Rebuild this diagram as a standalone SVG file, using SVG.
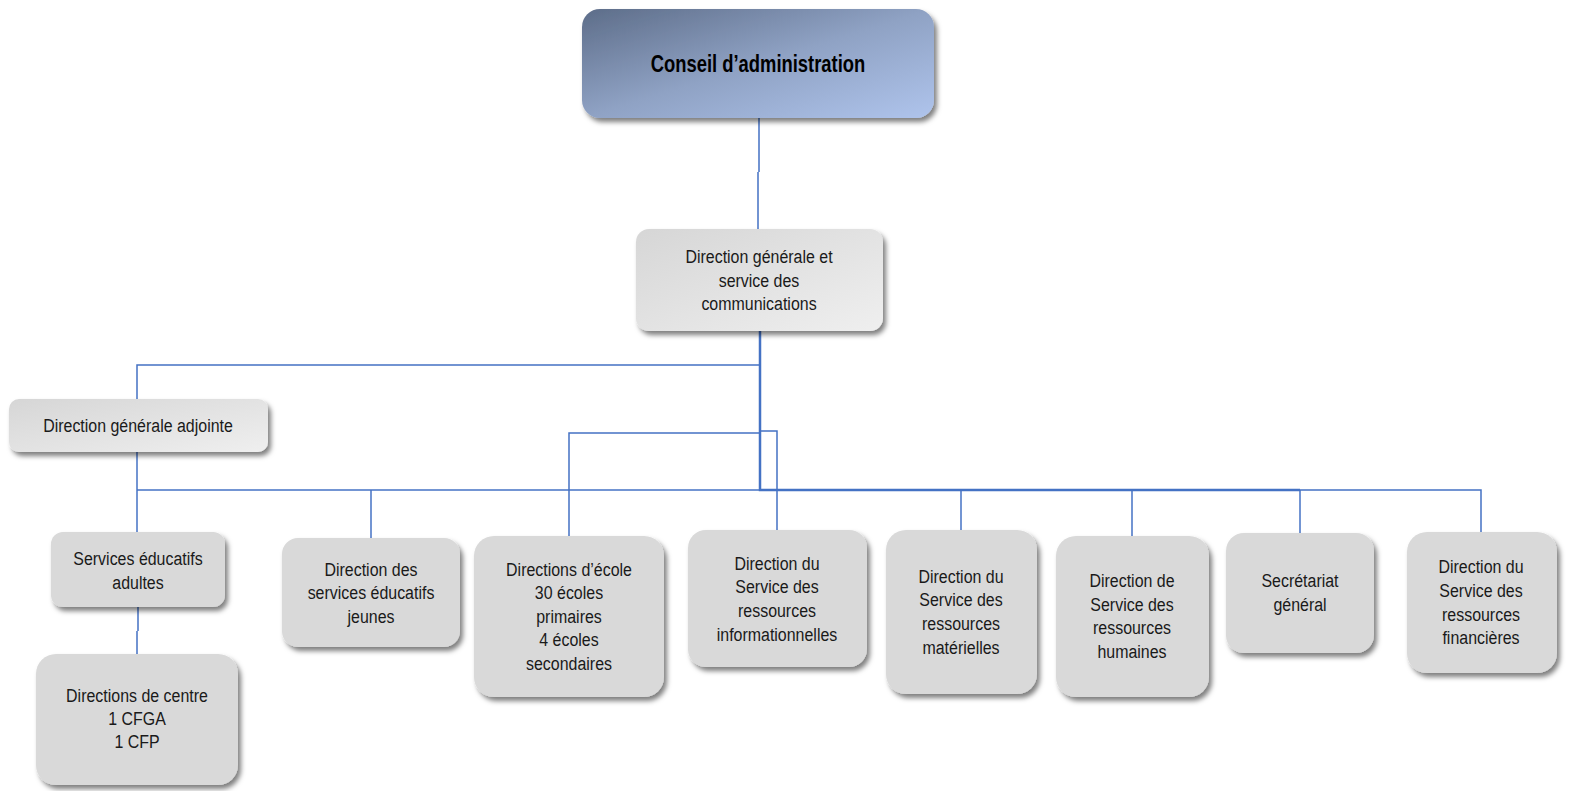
<svg xmlns="http://www.w3.org/2000/svg" width="1569" height="791" viewBox="0 0 1569 791">
<defs>
<linearGradient id="gTop" x1="0" y1="0" x2="1" y2="1">
<stop offset="0" stop-color="#5d6d89"/>
<stop offset="0.5" stop-color="#8fa2c4"/>
<stop offset="1" stop-color="#afc4ec"/>
</linearGradient>
<linearGradient id="gGray" x1="0" y1="0" x2="1" y2="1">
<stop offset="0" stop-color="#d6d6d6"/>
<stop offset="1" stop-color="#efefef"/>
</linearGradient>
<filter id="sh" x="-10%" y="-10%" width="125%" height="130%">
<feDropShadow dx="3" dy="4" stdDeviation="2.5" flood-color="#000" flood-opacity="0.5"/>
</filter>
</defs>
<style>
.box{fill:#d9d9d9;filter:url(#sh)}
.gbox{fill:url(#gGray);filter:url(#sh)}
text{font-family:"Liberation Sans",Arial,sans-serif;font-size:19px;fill:#1a1a1a;text-anchor:middle}
.title{font-size:23px;font-weight:bold;fill:#000}
.c{fill:none;stroke:#4472c4;stroke-width:1.5}
.ct{fill:none;stroke:#4472c4;stroke-width:2.5}
</style>
<g id="connectors">
<path class="c" d="M759 118 V172 M758 172 V229"/>
<path class="ct" d="M760 331 V490 H1300"/>
<path class="c" d="M759 365 H137 V399"/>
<path class="c" d="M137 452 V532"/>
<path class="c" d="M759 490 H137"/>
<path class="c" d="M371 490 V538"/>
<path class="c" d="M759 433 H569 V536"/>
<path class="c" d="M760 431 H777 V530"/>
<path class="c" d="M1300 490 H1481 V532"/>
<path class="c" d="M961 490 V530"/>
<path class="c" d="M1132 490 V536"/>
<path class="c" d="M1300 490 V533"/>
<path class="c" d="M138 607 V631 M137 631 V654"/>
</g>
<g id="n-conseil">
<rect x="582" y="9" width="352" height="109" rx="18" fill="url(#gTop)" filter="url(#sh)"/>
<g transform="translate(758,0) scale(0.8,1)"><text class="title" x="0" y="72">Conseil d’administration</text></g>
</g>
<g id="n-dg">
<rect class="gbox" x="636" y="229" width="247" height="102" rx="13"/>
<g transform="translate(759,0) scale(0.84,1)">
<text x="0" y="263">Direction générale et</text>
<text x="0" y="287">service des</text>
<text x="0" y="310">communications</text>
</g>
</g>
<g id="n-dga">
<rect class="gbox" x="9" y="399" width="259" height="53" rx="10"/>
<g transform="translate(138,0) scale(0.84,1)"><text x="0" y="432">Direction générale adjointe</text></g>
</g>
<g id="n-sea">
<rect class="box" x="51" y="532" width="174" height="75" rx="12"/>
<g transform="translate(138,0) scale(0.84,1)">
<text x="0" y="565">Services éducatifs</text>
<text x="0" y="589">adultes</text>
</g>
</g>
<g id="n-centre">
<rect class="box" x="36" y="654" width="202" height="131" rx="20"/>
<g transform="translate(137,0) scale(0.84,1)">
<text x="0" y="702">Directions de centre</text>
<text x="0" y="725">1 CFGA</text>
<text x="0" y="748">1 CFP</text>
</g>
</g>
<g id="n-sej">
<rect class="box" x="282" y="538" width="178" height="109" rx="16"/>
<g transform="translate(371,0) scale(0.84,1)">
<text x="0" y="576">Direction des</text>
<text x="0" y="599">services éducatifs</text>
<text x="0" y="623">jeunes</text>
</g>
</g>
<g id="n-ecole">
<rect class="box" x="474" y="536" width="190" height="161" rx="20"/>
<g transform="translate(569,0) scale(0.84,1)">
<text x="0" y="576">Directions d’école</text>
<text x="0" y="599">30 écoles</text>
<text x="0" y="623">primaires</text>
<text x="0" y="646">4 écoles</text>
<text x="0" y="670">secondaires</text>
</g>
</g>
<g id="n-sri">
<rect class="box" x="688" y="530" width="179" height="137" rx="18"/>
<g transform="translate(777,0) scale(0.84,1)">
<text x="0" y="570">Direction du</text>
<text x="0" y="593">Service des</text>
<text x="0" y="617">ressources</text>
<text x="0" y="641">informationnelles</text>
</g>
</g>
<g id="n-srm">
<rect class="box" x="886" y="530" width="151" height="164" rx="20"/>
<g transform="translate(961,0) scale(0.84,1)">
<text x="0" y="583">Direction du</text>
<text x="0" y="606">Service des</text>
<text x="0" y="630">ressources</text>
<text x="0" y="654">matérielles</text>
</g>
</g>
<g id="n-srh">
<rect class="box" x="1056" y="536" width="153" height="161" rx="20"/>
<g transform="translate(1132,0) scale(0.84,1)">
<text x="0" y="587">Direction de</text>
<text x="0" y="611">Service des</text>
<text x="0" y="634">ressources</text>
<text x="0" y="658">humaines</text>
</g>
</g>
<g id="n-sg">
<rect class="box" x="1226" y="533" width="148" height="120" rx="18"/>
<g transform="translate(1300,0) scale(0.84,1)">
<text x="0" y="587">Secrétariat</text>
<text x="0" y="611">général</text>
</g>
</g>
<g id="n-srf">
<rect class="box" x="1407" y="532" width="150" height="141" rx="20"/>
<g transform="translate(1481,0) scale(0.84,1)">
<text x="0" y="573">Direction du</text>
<text x="0" y="597">Service des</text>
<text x="0" y="621">ressources</text>
<text x="0" y="644">financières</text>
</g>
</g>
</svg>
